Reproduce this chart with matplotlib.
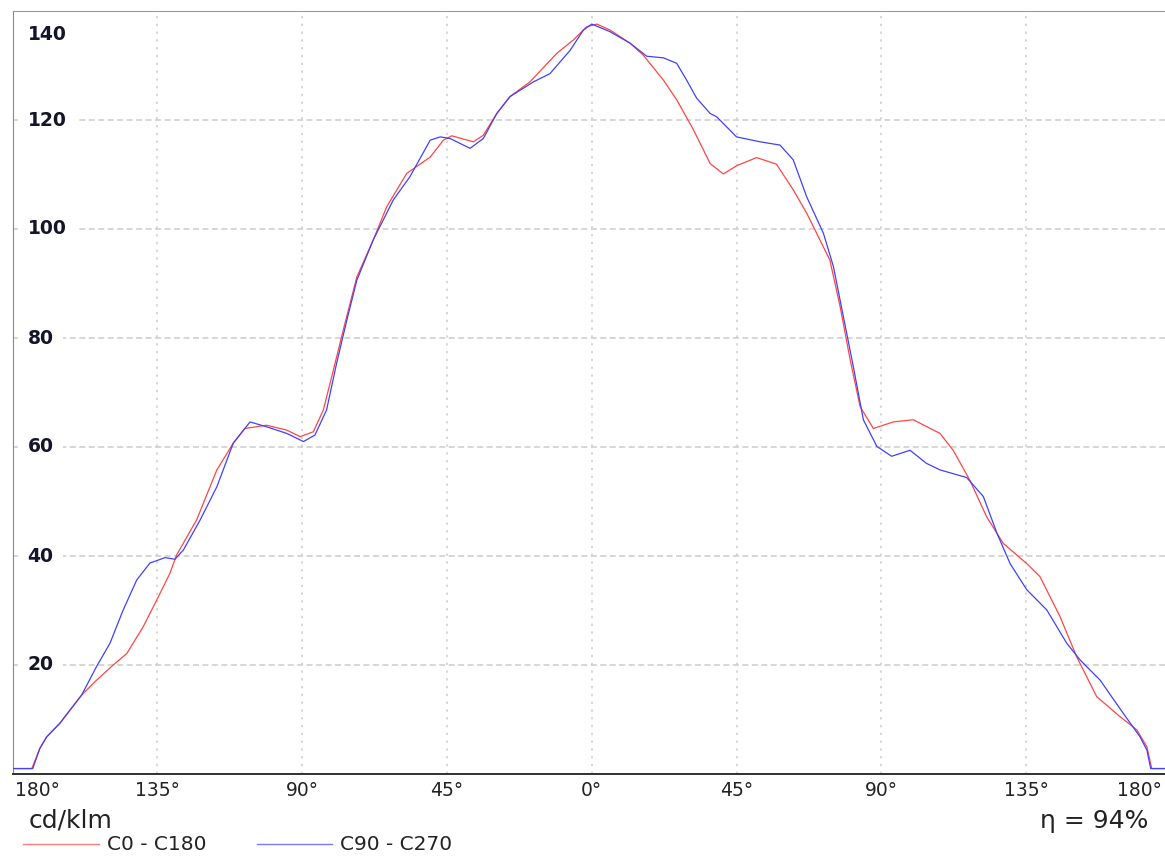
import matplotlib
matplotlib.use("Agg")
import matplotlib.pyplot as plt
from matplotlib.lines import Line2D

# C0 - C180 plane
ang_c0 = [-180, -174.0, -171.5, -169.4, -165.3, -158.5, -153.9, -148.7, -144.5, -139.4,
          -135.2, -131.1, -129.0, -122.8, -116.5, -111.4, -107.8, -101.0, -94.8, -90.6,
          -86.5, -83.4, -80.3, -77.2, -73.0, -67.9, -63.7, -57.5, -50.2, -46.1,
          -43.5, -36.8, -33.7, -29.5, -25.4, -19.2, -10.9, -5.7, -1.6, 1.6,
          5.7, 11.9, 16.0, 22.3, 26.4, 31.6, 36.8, 40.9, 45.0, 51.2,
          57.4, 62.6, 66.8, 70.9, 74.0, 77.2, 80.3, 83.4, 87.5, 93.7,
          99.9, 108.2, 112.3, 117.5, 122.7, 127.9, 135.2, 139.3, 145.5, 150.7,
          156.9, 164.2, 169.4, 172.5, 174.0, 180]
val_c0 = [1.0, 1.0, 4.7, 6.8, 9.3, 14.5, 17.2, 20.0, 22.1, 27.0,
          31.9, 36.8, 40.2, 46.6, 55.8, 60.7, 63.4, 64.0, 63.1, 61.9,
          62.8, 66.8, 74.1, 81.5, 91.2, 98.0, 104.1, 110.2, 113.2, 116.3,
          117.1, 116.0, 117.2, 121.2, 124.3, 127.0, 132.2, 134.7, 137.1, 137.6,
          136.5, 134.1, 131.9, 127.3, 123.7, 118.2, 112.0, 110.1, 111.6, 113.1,
          111.9, 107.2, 102.9, 98.0, 94.3, 85.7, 76.0, 67.4, 63.4, 64.6,
          65.0, 62.5, 59.4, 53.9, 47.2, 42.3, 38.6, 36.2, 28.9, 21.5,
          14.2, 10.5, 8.1, 5.0, 1.0, 1.0]

# C90 - C270 plane
ang_c90 = [-180, -173.7, -171.5, -169.4, -165.3, -158.5, -153.9, -149.7, -145.6, -141.4,
           -137.3, -132.6, -129.5, -126.9, -121.7, -116.5, -111.4, -106.2, -101.0, -94.8,
           -89.6, -86.0, -82.4, -79.3, -76.1, -73.0, -67.9, -61.7, -56.5, -50.2,
           -47.1, -44.0, -37.8, -33.7, -29.5, -25.4, -18.1, -13.0, -6.7, -2.6,
           0.0, 5.7, 11.9, 17.1, 22.3, 26.4, 29.5, 32.6, 36.8, 38.8,
           45.0, 52.3, 58.5, 62.6, 66.8, 72.0, 75.1, 78.2, 81.3, 84.4,
           88.6, 93.2, 98.9, 104.0, 108.2, 116.5, 121.7, 125.9, 130.0, 135.2,
           141.4, 147.6, 151.8, 158.0, 165.2, 170.4, 172.5, 173.7, 180]
val_c90 = [1.0, 1.0, 4.7, 6.8, 9.3, 14.5, 19.7, 24.0, 30.1, 35.6,
           38.7, 39.7, 39.4, 41.1, 46.6, 52.7, 60.7, 64.6, 63.7, 62.5,
           61.0, 62.2, 66.8, 75.3, 83.3, 90.6, 98.0, 105.3, 109.6, 116.3,
           116.9, 116.6, 114.8, 116.6, 121.2, 124.3, 127.0, 128.5, 132.8, 136.5,
           137.6, 136.2, 134.1, 131.7, 131.4, 130.4, 127.3, 124.0, 121.2, 120.6,
           116.9, 116.0, 115.4, 112.7, 105.9, 99.2, 93.1, 83.9, 74.7, 65.0,
           60.1, 58.3, 59.4, 57.0, 55.8, 54.4, 50.9, 44.2, 38.6, 33.8,
           30.1, 24.0, 20.9, 17.2, 11.1, 6.8, 4.4, 1.0, 1.0]

x_ticks = [-180, -135, -90, -45, 0, 45, 90, 135, 180]
x_labels = ["180°", "135°", "90°", "45°", "0°", "45°", "90°", "135°", "180°"]
y_ticks = [20, 40, 60, 80, 100, 120, 140]
series_names = ["C0 - C180", "C90 - C270"]
unit_label = "cd/klm"
eta_label = "η = 94%"

RED = "#ff4545"
BLUE = "#4040ff"
W, H = 1165, 857

def fx(px):
    return px / W

def fy(py):
    return 1 - py / H

fig = plt.figure(figsize=(W / 100, H / 100), dpi=100)
ax = fig.add_axes([fx(12.5), fy(774), (1171 - 12.5) / W, (774 - 11) / H])
ax.set_xlim(-180, 180)
ax.set_ylim(0, 140)

for v in x_ticks[1:-1]:
    ax.axvline(v, color="#cccccc", lw=1.1, dashes=(1.5, 3.6), zorder=1)
for v in y_ticks[:-1]:
    ax.axhline(v, color="#cccccc", lw=1.1, dashes=(3.9, 2.3), zorder=1)

ax.plot(ang_c0, val_c0, color=RED, lw=0.9, zorder=3)
ax.plot(ang_c90, val_c90, color=BLUE, lw=0.9, zorder=3)

ax.set_xticks([])
ax.set_yticks([])
ax.spines["left"].set_color("#8a8a8a")
ax.spines["top"].set_color("#9a9a9a")
ax.spines["right"].set_visible(False)
ax.spines["bottom"].set_color("#303030")
ax.spines["bottom"].set_linewidth(1.4)

# y labels sit inside the plot, top one pushed down
for v in y_ticks:
    dy = -24 if v == 140 else 0
    ax.annotate(str(v), xy=(0, v), xycoords=("axes fraction", "data"),
                xytext=(15, dy), textcoords="offset pixels", ha="left", va="center",
                fontsize=13.5, fontweight="bold", color="#14142a", zorder=4,
                bbox=dict(boxstyle="square,pad=0.5", fc="white", ec="none"))

# x labels, end ones kept inside
for i, (v, lab) in enumerate(zip(x_ticks, x_labels)):
    ha, dx = "center", 0
    if i == 0:
        ha, dx = "left", 2.5
    elif i == len(x_ticks) - 1:
        ha, dx = "right", -9
    ax.annotate(lab, xy=(v, 0), xycoords=("data", "axes fraction"),
                xytext=(dx, -17), textcoords="offset pixels", ha=ha, va="center",
                fontsize=13.5, color="#222222", annotation_clip=False)

fig.text(fx(29), fy(821), unit_label, fontsize=18, color="#222222", ha="left", va="center")
fig.text(fx(1148), fy(821), eta_label, fontsize=18, color="#222222", ha="right", va="center")

# legend
for (x0, x1, xt), col, name in zip([(23, 99, 107), (257, 332, 340)], [RED, BLUE], series_names):
    fig.add_artist(Line2D([fx(x0), fx(x1)], [fy(844), fy(844)], color=col, lw=1.0, alpha=0.7))
    fig.text(fx(xt), fy(845), name, fontsize=14.5, color="#222222", ha="left", va="center")

fig.savefig("out.png", dpi=100)
